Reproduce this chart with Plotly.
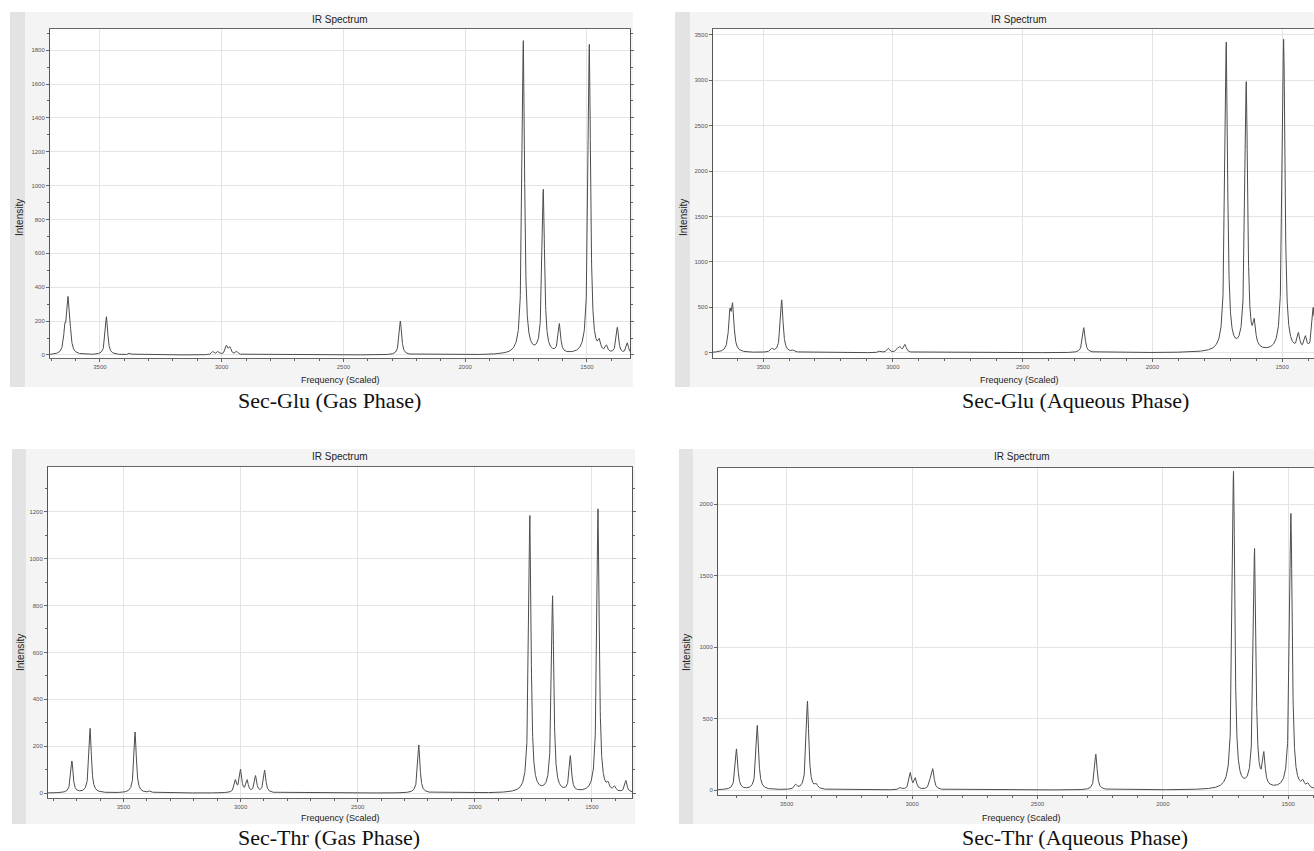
import numpy as np
import plotly.graph_objects as go

W, H = 1314, 851

# ---------------- data: peak lists (frequency cm^-1, peak intensity)
glu_gas_freq = [3644, 3631, 3623, 3473, 3377, 3036, 3015, 2980, 2966, 2938, 2266,
                1761, 1679, 1613, 1490, 1449, 1420, 1375, 1334]
glu_gas_int = [130, 290, 90, 225, 10, 18, 18, 50, 40, 20, 200,
               1850, 965, 170, 1830, 55, 40, 155, 65]

glu_aq_freq = [3628, 3617, 3466, 3428, 3384, 3049, 3017, 2982, 2972, 2953, 2264,
               1715, 1638, 1607, 1494, 1437, 1410, 1380]
glu_aq_int = [380, 460, 35, 580, 20, 18, 45, 35, 50, 85, 275,
              3400, 2950, 250, 3440, 170, 140, 480]

thr_gas_freq = [3720, 3642, 3450, 3386, 3022, 3000, 2972, 2936, 2897, 2239,
                1765, 1668, 1592, 1474, 1431, 1403, 1355]
thr_gas_int = [135, 275, 260, 8, 50, 95, 50, 70, 95, 205,
               1180, 835, 150, 1210, 25, 20, 50]

thr_aq_freq = [3700, 3617, 3464, 3417, 3382, 3047, 3007, 2987, 2927, 2917, 2267,
               1718, 1634, 1597, 1489, 1441, 1421]
thr_aq_int = [285, 450, 30, 620, 30, 15, 115, 75, 50, 135, 250,
              2220, 1670, 215, 1930, 40, 30]

panel_titles = ["IR Spectrum"] * 4
captions = ["Sec-Glu (Gas Phase)", "Sec-Glu (Aqueous Phase)",
            "Sec-Thr (Gas Phase)", "Sec-Thr (Aqueous Phase)"]
x_title = "Frequency (Scaled)"
y_title = "Intensity"

HWHM = 6.0  # Lorentzian half width used for the broadened curve


def px_x(v):
    return v / W


def px_y(v):
    return 1 - v / H


def broadened(freqs, ints, lo, hi):
    x = np.arange(lo, hi + 0.5, 0.5)
    y = np.zeros_like(x)
    for f, a in zip(freqs, ints):
        y += a / (1.0 + ((x - f) / HWHM) ** 2)
    return x, y


panels = [
    dict(freq=glu_gas_freq, inten=glu_gas_int, xr=[3705, 1323], yr=[-18, 1925],
         dom_x=[50, 630], dom_y=[29, 358], ydt=200, yminor=100, mirror=True,
         frame=[10, 12, 633, 387], strip=15, title_xy=(340, 19),
         ylab_xy=(19, 218), xlab_xy=(340, 380), cap_xy=(329, 401), cap_bottom=False),
    dict(freq=glu_aq_freq, inten=glu_aq_int, xr=[3693, 1377], yr=[-58, 3565],
         dom_x=[713, 1314], dom_y=[29, 358], ydt=500, yminor=None, mirror=False,
         frame=[675, 12, 1314, 387], strip=15, title_xy=(1019, 19),
         ylab_xy=(683, 218), xlab_xy=(1019, 380), cap_xy=(1075, 401), cap_bottom=False),
    dict(freq=thr_gas_freq, inten=thr_gas_int, xr=[3822, 1329], yr=[-21, 1391],
         dom_x=[48, 632], dom_y=[467, 798], ydt=200, yminor=100, mirror=True,
         frame=[12, 449, 635, 824], strip=14, title_xy=(340, 456),
         ylab_xy=(20, 653), xlab_xy=(340, 818), cap_xy=(329, 851), cap_bottom=True),
    dict(freq=thr_aq_freq, inten=thr_aq_int, xr=[3774, 1397], yr=[-35, 2254],
         dom_x=[718, 1314], dom_y=[468, 795], ydt=500, yminor=None, mirror=False,
         frame=[679, 449, 1314, 824], strip=14, title_xy=(1022, 456),
         ylab_xy=(686, 653), xlab_xy=(1021, 818), cap_xy=(1075, 851), cap_bottom=True),
]

fig = go.Figure()
shapes = []
annotations = []
axis_font = dict(family="Liberation Sans, Arial, sans-serif", size=6, color="#555555")

for i, p in enumerate(panels):
    n = "" if i == 0 else str(i + 1)
    lo, hi = min(p["xr"]), max(p["xr"])
    x, y = broadened(p["freq"], p["inten"], lo, hi)
    fig.add_trace(go.Scatter(x=x, y=y, mode="lines",
                             line=dict(color="#4d4d4d", width=1),
                             xaxis="x" + n, yaxis="y" + n,
                             showlegend=False, hoverinfo="x+y"))

    fx0, fy0, fx1, fy1 = p["frame"]
    # window frame, left strip, white plot area
    shapes.append(dict(type="rect", xref="paper", yref="paper", layer="below",
                       x0=px_x(fx0), x1=px_x(fx1), y0=px_y(fy1), y1=px_y(fy0),
                       fillcolor="#f4f4f4", line=dict(width=0)))
    shapes.append(dict(type="rect", xref="paper", yref="paper", layer="below",
                       x0=px_x(fx0), x1=px_x(fx0 + p["strip"]), y0=px_y(fy1), y1=px_y(fy0),
                       fillcolor="#e3e3e3", line=dict(width=0)))
    shapes.append(dict(type="rect", xref="paper", yref="paper", layer="below",
                       x0=px_x(p["dom_x"][0]), x1=px_x(p["dom_x"][1]),
                       y0=px_y(p["dom_y"][1]), y1=px_y(p["dom_y"][0]),
                       fillcolor="white", line=dict(width=0)))

    xaxis = dict(domain=[px_x(p["dom_x"][0]), px_x(p["dom_x"][1])],
                 range=p["xr"], anchor="y" + n, dtick=500, tick0=0,
                 showgrid=True, gridcolor="#e4e4e4", gridwidth=1,
                 showline=True, linecolor="#666666", linewidth=1, mirror=True,
                 ticks="outside", ticklen=3, tickcolor="#666666",
                 tickfont=axis_font, zeroline=False,
                 minor=dict(dtick=100, tick0=0, ticks="outside", ticklen=2,
                            tickcolor="#666666", showgrid=False))
    yaxis = dict(domain=[px_y(p["dom_y"][1]), px_y(p["dom_y"][0])],
                 range=p["yr"], anchor="x" + n, dtick=p["ydt"], tick0=0,
                 showgrid=True, gridcolor="#e4e4e4", gridwidth=1,
                 showline=True, linecolor="#555555", linewidth=1,
                 mirror="ticks" if p["mirror"] else False,
                 ticks="outside", ticklen=3, tickcolor="#666666",
                 tickfont=axis_font, zeroline=False)
    if p["yminor"]:
        yaxis["minor"] = dict(dtick=p["yminor"], tick0=0, ticks="outside", ticklen=2,
                              tickcolor="#666666", showgrid=False)
    fig.update_layout(**{"xaxis" + n: xaxis, "yaxis" + n: yaxis})

    tx, ty = p["title_xy"]
    annotations.append(dict(text=panel_titles[i], x=px_x(tx), y=px_y(ty),
                            xref="paper", yref="paper", showarrow=False,
                            xanchor="center", yanchor="middle",
                            font=dict(family="Liberation Sans, Arial", size=10, color="#222222")))
    lx, ly = p["ylab_xy"]
    annotations.append(dict(text=y_title, x=px_x(lx), y=px_y(ly), textangle=-90,
                            xref="paper", yref="paper", showarrow=False,
                            xanchor="center", yanchor="middle",
                            font=dict(family="Liberation Sans, Arial", size=10, color="#222222")))
    qx, qy = p["xlab_xy"]
    annotations.append(dict(text=x_title, x=px_x(qx), y=px_y(qy),
                            xref="paper", yref="paper", showarrow=False,
                            xanchor="center", yanchor="middle",
                            font=dict(family="Liberation Sans, Arial", size=9, color="#222222")))
    cx, cy = p["cap_xy"]
    annotations.append(dict(text=captions[i], x=px_x(cx), y=px_y(cy),
                            xref="paper", yref="paper", showarrow=False,
                            xanchor="center",
                            yanchor="bottom" if p["cap_bottom"] else "middle",
                            borderpad=0,
                            font=dict(family="Liberation Serif, Times New Roman, serif",
                                      size=22, color="#111111")))

fig.update_layout(width=W, height=H, autosize=False,
                  margin=dict(l=0, r=0, t=0, b=0, pad=0),
                  paper_bgcolor="white", plot_bgcolor="white",
                  shapes=shapes, annotations=annotations, showlegend=False)

fig.write_html("out.html",
               config={"displayModeBar": False},
               post_script="document.body.style.margin='0px';"
                           "document.body.style.overflow='hidden';")
